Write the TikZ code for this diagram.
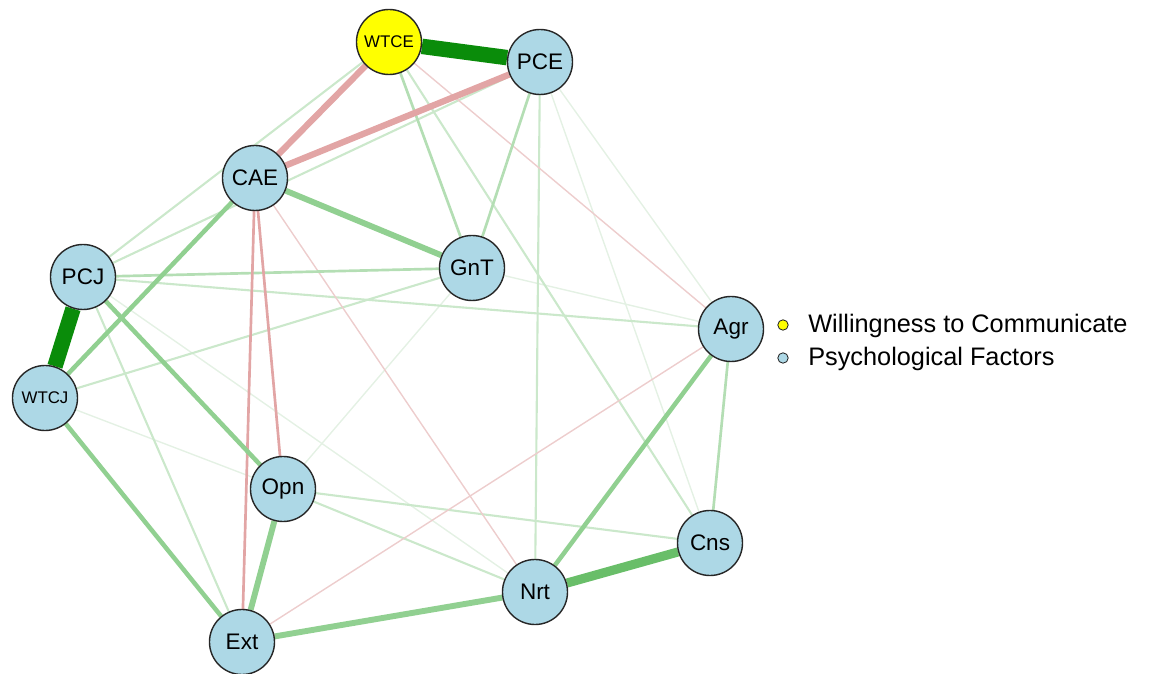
\documentclass[tikz,border=0pt]{standalone}
\usepackage{fontspec}
\setmainfont{Liberation Sans}
\usepackage{xcolor}
\usepackage{tikz}
\usetikzlibrary{backgrounds}
\definecolor{nodeblue}{RGB}{173,216,230}
\definecolor{wtcyellow}{RGB}{255,255,0}
\definecolor{posdark}{RGB}{10,140,10}
\definecolor{posmid}{RGB}{105,190,105}
\definecolor{posmed}{RGB}{145,208,145}
\definecolor{poslight}{RGB}{180,222,180}
\definecolor{poslighter}{RGB}{203,232,203}
\definecolor{posfaint}{RGB}{228,241,228}
\definecolor{negmed}{RGB}{226,165,165}
\definecolor{neglight}{RGB}{237,205,205}
\tikzstyle{psy} = [circle, minimum size=1.625cm, inner sep=0pt, fill=nodeblue, draw=black!85, line width=1pt, font=\fontsize{16}{18}\selectfont]
\tikzstyle{wtc} = [psy, font=\fontsize{12}{14}\selectfont]
\tikzstyle{legdot} = [circle, minimum size=0.26cm, inner sep=0pt, draw=black!85, line width=0.6pt]
\tikzstyle{legtext} = [anchor=west, inner sep=0pt, font=\fontsize{18}{20}\selectfont]
\tikzstyle{strong} = [posdark, line width=11pt]
\tikzstyle{posA} = [posmid, line width=6.5pt]
\tikzstyle{posB} = [posmed, line width=4.2pt]
\tikzstyle{posC} = [posmed, line width=3.2pt]
\tikzstyle{posD} = [poslight, line width=1.9pt]
\tikzstyle{posE} = [poslighter, line width=1.5pt]
\tikzstyle{posF} = [posfaint, line width=1pt]
\tikzstyle{negA} = [negmed, line width=4.5pt]
\tikzstyle{negB} = [negmed, line width=1.9pt]
\tikzstyle{negC} = [neglight, line width=1pt]

\begin{document}
\begin{tikzpicture}[x=0.025cm, y=-0.025cm]
   \useasboundingbox (0,0) rectangle (1173,674);
   % nodes
   \node (WTCE) [wtc, fill=wtcyellow] at (389,42) {WTCE};
   \node (PCE) [psy] at (540,62) {PCE};
   \node (CAE) [psy] at (255,178) {CAE};
   \node (GnT) [psy] at (472,268) {GnT};
   \node (PCJ) [psy] at (83,277) {PCJ};
   \node (Agr) [psy] at (731,329) {Agr};
   \node (WTCJ) [wtc] at (45,398) {WTCJ};
   \node (Opn) [psy] at (283,489) {Opn};
   \node (Cns) [psy] at (710,543) {Cns};
   \node (Nrt) [psy] at (535,592) {Nrt};
   \node (Ext) [psy] at (242,642) {Ext};
   % edges
   \begin{scope}[on background layer]
   \draw [posF] (GnT) -- (Agr);
   \draw [posF] (PCE) -- (Agr);
   \draw [posF] (PCE) -- (Cns);
   \draw [posF] (WTCJ) -- (Opn);
   \draw [posF] (PCJ) -- (Nrt);
   \draw [posF] (GnT) -- (Opn);
   \draw [posE] (PCE) -- (Nrt);
   \draw [posE] (WTCE) -- (Cns);
   \draw [posE] (PCJ) -- (Agr);
   \draw [posE] (WTCJ) -- (GnT);
   \draw [posE] (PCJ) -- (Ext);
   \draw [posE] (Opn) -- (Cns);
   \draw [posE] (Opn) -- (Nrt);
   \draw [posE] (PCJ) -- (WTCE);
   \draw [posE] (PCJ) -- (PCE);
   \draw [negC] (WTCE) -- (Agr);
   \draw [negC] (CAE) -- (Nrt);
   \draw [negC] (Ext) -- (Agr);
   \draw [posD] (PCJ) -- (GnT);
   \draw [posD] (Agr) -- (Cns);
   \draw [posD] (WTCE) -- (GnT);
   \draw [posD] (PCE) -- (GnT);
   \draw [negB] (CAE) -- (Ext);
   \draw [negB] (CAE) -- (Opn);
   \draw [posC] (PCJ) -- (Opn);
   \draw [posC] (WTCJ) -- (Ext);
   \draw [posC] (WTCJ) -- (CAE);
   \draw [posC] (Agr) -- (Nrt);
   \draw [posB] (CAE) -- (GnT);
   \draw [posB] (Ext) -- (Nrt);
   \draw [posB] (Opn) -- (Ext);
   \draw [negA] (WTCE) -- (CAE);
   \draw [negA] (PCE) -- (CAE);
   \draw [posA] (Cns) -- (Nrt);
   \draw [strong] (WTCE) -- (PCE);
   \draw [strong] (PCJ) -- (WTCJ);
   \end{scope}
   % legend
   \node (dotW) [legdot, fill=wtcyellow] at (783,325) {};
   \node (dotP) [legdot, fill=nodeblue] at (783,358) {};
   \node (legW) [legtext] at (808,326) {Willingness to Communicate};
   \node (legP) [legtext] at (808,359) {Psychological Factors};
\end{tikzpicture}
\end{document}
